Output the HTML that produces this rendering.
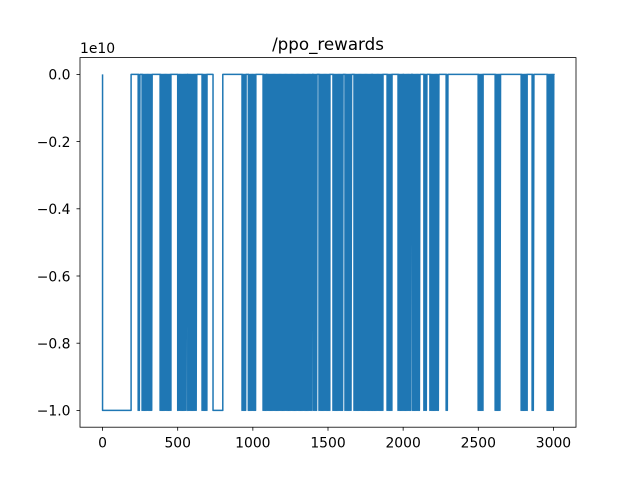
<!DOCTYPE html>
<html><head><meta charset="utf-8"><style>
body{margin:0;background:#fff}
svg text{font-family:"DejaVu Sans","Liberation Sans",sans-serif;fill:#000}
</style></head><body>
<svg id="chart" width="640" height="480">
<rect width="640" height="480" fill="#fff"/>
<text x="328" y="50" font-size="16.7" text-anchor="middle">/ppo_rewards</text>
<text x="80" y="53" font-size="13.9">1e10</text>
<g id="plot"></g>
<rect x="80" y="57.6" width="496" height="369.6" fill="none" stroke="#000" stroke-width="0.8"/>
<g id="axes"></g>
</svg>
<script>
// data (x in steps, value in units of 1e10)
const lowStart  = [0, 237, 263, 383, 500, 567, 662, 735, 928, 970, 1068, 1093, 1400, 1440, 1533, 1613, 1673, 1793, 1893, 1966, 2000, 2060, 2138, 2178, 2286, 2499, 2612, 2785, 2858, 2958];
const lowEnd    = [190, 250, 330, 455, 560, 628, 695, 800, 955, 1020, 1088, 1394, 1427, 1513, 1600, 1660, 1793, 1866, 1926, 2000, 2053, 2113, 2158, 2239, 2300, 2532, 2651, 2825, 2871, 3004];
const dense     = [false, true, true, true, true, true, true, false, true, true, true, true, true, true, true, true, true, true, true, true, true, true, true, true, true, true, true, true, true, true];
const lowValue = -1.0, highValue = 0.0;
const xTicks = [0, 500, 1000, 1500, 2000, 2500, 3000];
const yTicks = [0, -0.2, -0.4, -0.6, -0.8, -1.0];
const yTickLabels = ["0.0", "\u22120.2", "\u22120.4", "\u22120.6", "\u22120.8", "\u22121.0"];

const L=80,R=576,T=57.6,B=427.2;
const xMin=-150,xMax=3150,yMin=-1.05,yMax=0.05;
const sx=v=>L+(v-xMin)/(xMax-xMin)*(R-L);
const sy=v=>B-(v-yMin)/(yMax-yMin)*(B-T);
const NS="http://www.w3.org/2000/svg";

let pts=[[0,highValue]];
for(let i=0;i<lowStart.length;i++){
  const a=lowStart[i], b=lowEnd[i];
  pts.push([a,highValue]);
  if(dense[i]){
    let low=true;
    for(let x=a;x<=b;x+=4){pts.push([x,low?lowValue:highValue]);low=!low;}
    pts.push([b,highValue]);
  } else {
    pts.push([a,lowValue]);pts.push([b,lowValue]);pts.push([b,highValue]);
  }
}
pts.push([3000,highValue]);
const d=pts.map((p,i)=>(i?'L':'M')+sx(p[0]).toFixed(2)+' '+sy(p[1]).toFixed(2)).join('');
const path=document.createElementNS(NS,'path');
path.setAttribute('d',d);
path.setAttribute('fill','none');
path.setAttribute('stroke','#1f77b4');
path.setAttribute('stroke-width','1.5');
path.setAttribute('stroke-linejoin','round');


document.getElementById('plot').appendChild(path);

const ax=document.getElementById('axes');
xTicks.forEach(v=>{
  const x=sx(v);
  const l=document.createElementNS(NS,'line');
  l.setAttribute('x1',x);l.setAttribute('x2',x);l.setAttribute('y1',B);l.setAttribute('y2',B+3.5);
  l.setAttribute('stroke','#000');l.setAttribute('stroke-width','0.8');
  
  
  ax.appendChild(l);
  const t=document.createElementNS(NS,'text');
  t.setAttribute('x',x);t.setAttribute('y',B+20.3);t.setAttribute('font-size','13.9');t.setAttribute('text-anchor','middle');
  t.textContent=String(v);
  
  
  ax.appendChild(t);
});
yTicks.forEach((v,i)=>{
  const y=sy(v);
  const l=document.createElementNS(NS,'line');
  l.setAttribute('x1',L-3.5);l.setAttribute('x2',L);l.setAttribute('y1',y);l.setAttribute('y2',y);
  l.setAttribute('stroke','#000');l.setAttribute('stroke-width','0.8');
  
  
  ax.appendChild(l);
  const t=document.createElementNS(NS,'text');
  t.setAttribute('x',L-9.5);t.setAttribute('y',y+5.3);t.setAttribute('font-size','13.9');t.setAttribute('text-anchor','end');
  t.textContent=yTickLabels[i];
  
  
  ax.appendChild(t);
});
</script>
</body></html>
